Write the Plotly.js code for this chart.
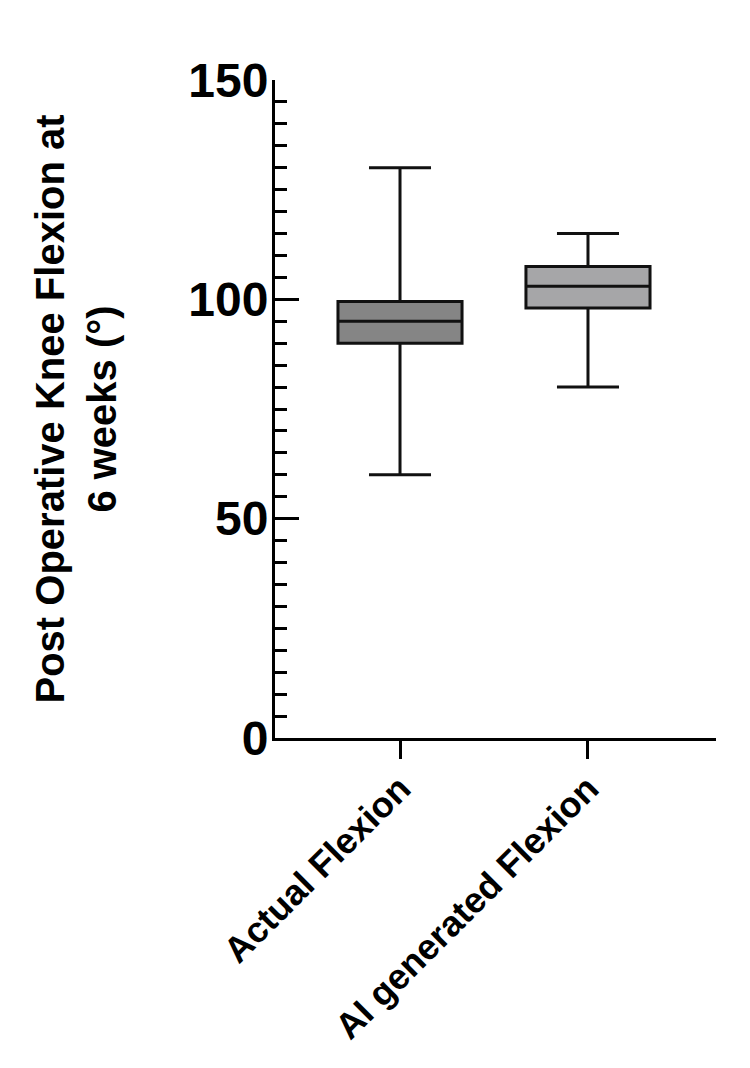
<!DOCTYPE html>
<html>
<head>
<meta charset="utf-8">
<script src="https://cdn.plot.ly/plotly-3.0.1.min.js"></script>
<style>
  html, body { margin: 0; padding: 0; background: #ffffff; }
  #chart { width: 750px; height: 1068px; }
</style>
</head>
<body>
<div id="chart"></div>
<script>
// Categories
const categories = ["Actual Flexion", "AI generated Flexion"];
// Box statistics (degrees)
const upperWhisker = [130, 115];
const q3Values     = [99.5, 107.5];
const medians      = [95, 103];
const q1Values     = [90, 98];
const lowerWhisker = [60, 80];
const boxColors    = ["#858585", "#a6a6a8"];
// Y tick labels
const yTickVals  = [0, 50, 100, 150];
const yTickText  = ["0", "50", "100", "150"];

const FONT = 'Arial, "Liberation Sans", Helvetica, sans-serif';

const traces = categories.map((cat, i) => ({
  type: "box",
  name: cat,
  x: [cat],
  q1: [q1Values[i]],
  median: [medians[i]],
  q3: [q3Values[i]],
  lowerfence: [lowerWhisker[i]],
  upperfence: [upperWhisker[i]],
  fillcolor: boxColors[i],
  line: { color: "#111111", width: 3 },
  whiskerwidth: 0.5,
  width: 0.66,
  boxpoints: false,
  hoverinfo: "skip",
  showlegend: false
}));

const layout = {
  width: 750,
  height: 1068,
  margin: { l: 275, r: 34, t: 80, b: 330, pad: 0 },
  paper_bgcolor: "#ffffff",
  plot_bgcolor: "#ffffff",
  showlegend: false,
  font: { family: FONT, color: "#000000" },
  xaxis: {
    type: "category",
    range: [-0.665, 1.681],
    showline: true,
    linecolor: "#000000",
    linewidth: 3,
    showgrid: false,
    zeroline: false,
    ticks: "outside",
    ticklen: 18,
    tickwidth: 3,
    tickcolor: "#000000",
    tickangle: -45,
    ticklabelstandoff: -6,
    tickfont: { family: FONT, size: 36, color: "#000000", weight: "bold" },
    fixedrange: true
  },
  yaxis: {
    range: [0, 150],
    tickvals: yTickVals,
    ticktext: yTickText,
    showline: true,
    linecolor: "#000000",
    linewidth: 3,
    showgrid: false,
    zeroline: false,
    ticks: "inside",
    ticklen: 24,
    tickwidth: 3,
    tickcolor: "#000000",
    ticklabelstandoff: -6,
    minor: {
      dtick: 5,
      tick0: 0,
      ticks: "inside",
      ticklen: 12,
      tickwidth: 3,
      tickcolor: "#000000",
      showgrid: false
    },
    tickfont: { family: FONT, size: 48, color: "#000000", weight: "bold" },
    title: {
      text: "Post Operative Knee Flexion at<br>6 weeks (°)",
      font: { family: FONT, size: 40, color: "#000000", weight: "bold" },
      standoff: 60
    },
    automargin: false,
    fixedrange: true
  }
};

Plotly.newPlot("chart", traces, layout, { displayModeBar: false, staticPlot: true });
</script>
</body>
</html>
